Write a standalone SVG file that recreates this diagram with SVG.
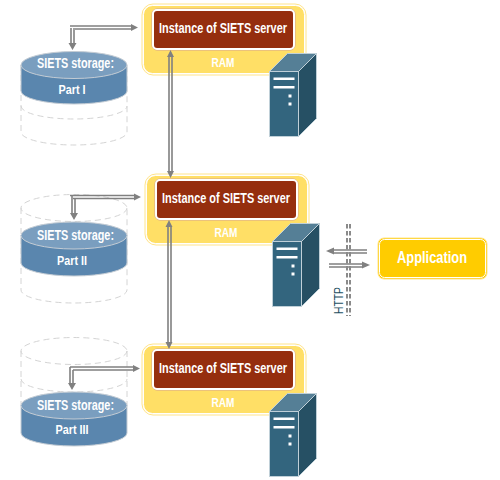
<svg xmlns="http://www.w3.org/2000/svg" width="500" height="480" viewBox="0 0 500 480">
<style>
text{font-family:"Liberation Sans",Arial,sans-serif;font-weight:bold;fill:#fff;text-anchor:middle}
.ram{fill:#ffdf66;stroke:#fff;stroke-width:1}
.ramo{fill:none;stroke:#ffe48a;stroke-width:1}
.inst{fill:#952e0e;stroke:#fff;stroke-width:2}
.insto{fill:none;stroke:#d8a58f;stroke-width:1}
.dash{fill:none;stroke:#d4d4d4;stroke-width:1;stroke-dasharray:6 4}
.cb{fill:#5a86ae;stroke:#c4ccd4;stroke-width:1}
.ct{fill:#7a9ebf;stroke:#c4ccd4;stroke-width:1}
.w{stroke:#808080;stroke-width:1.600;fill:none}
.h{fill:#808080}
.fr{fill:#33657e;stroke:#c0d0d8;stroke-width:1}
.sd{fill:#265064;stroke:#c0d0d8;stroke-width:1}
.tp{fill:#557f96;stroke:#c0d0d8;stroke-width:1}
.bar{fill:#fff}
</style>
<defs>
<g id="srv">
<path class="tp" d="M0 0 L18-18 H47 L29 0Z"/>
<path class="sd" d="M29 0 L47-18 V47 L29 65Z"/>
<rect class="fr" x="0" y="0" width="29" height="65"/>
<rect class="bar" x="4" y="6" width="21" height="2.500"/>
<rect class="bar" x="4" y="14.500" width="21" height="2.500"/>
<rect class="bar" x="19" y="23" width="3" height="3"/>
<rect class="bar" x="19" y="31" width="3" height="3"/>
</g>
<g id="ramg">
<rect class="ramo" x="0" y="0" width="164" height="71" rx="11"/>
<rect class="ram" x="1.500" y="1.500" width="161" height="68" rx="9"/>
<rect class="insto" x="10" y="5" width="143" height="41" rx="5"/>
<rect class="inst" x="11" y="6" width="141" height="39" rx="4"/>
</g>
</defs>

<g id="storage-1">
<path class="dash" d="M21 65 V132 A53 13 0 0 0 127 132 V65"/>
<path class="dash" d="M21 106 A53 13 0 0 0 127 106"/>
<path class="cb" d="M21 65 V91 A53 13 0 0 0 127 91 V65Z"/>
<ellipse class="ct" cx="74" cy="65" rx="53" ry="13.500"/>
<text x="75.500" y="68" font-size="14" textLength="77" lengthAdjust="spacingAndGlyphs">SIETS storage:</text>
<text x="72" y="94" font-size="13" textLength="27" lengthAdjust="spacingAndGlyphs">Part I</text>
</g>
<g id="storage-2">
<path class="dash" d="M21 208 V290 A53 13 0 0 0 127 290 V208"/>
<ellipse class="dash" cx="74" cy="208" rx="53" ry="13.500"/>
<path class="cb" d="M21 235 V263 A53 13 0 0 0 127 263 V235Z"/>
<ellipse class="ct" cx="74" cy="235.500" rx="53" ry="13.500"/>
<text x="75.500" y="240" font-size="14" textLength="77" lengthAdjust="spacingAndGlyphs">SIETS storage:</text>
<text x="72" y="265" font-size="13" textLength="30" lengthAdjust="spacingAndGlyphs">Part II</text>
</g>
<g id="storage-3">
<path class="dash" d="M21 351 V405 M127 351 V405"/>
<ellipse class="dash" cx="74" cy="351" rx="53" ry="13.500"/>
<path class="dash" d="M21 379 A53 13 0 0 0 127 379"/>
<path class="cb" d="M21 405 V433 A53 13 0 0 0 127 433 V405Z"/>
<ellipse class="ct" cx="74" cy="405.500" rx="53" ry="13.500"/>
<text x="75.500" y="410" font-size="14" textLength="77" lengthAdjust="spacingAndGlyphs">SIETS storage:</text>
<text x="72" y="434" font-size="13" textLength="33" lengthAdjust="spacingAndGlyphs">Part III</text>
</g>

<g id="server-1">
<use href="#ramg" x="142" y="4"/>
<text x="223" y="33" font-size="14" textLength="128" lengthAdjust="spacingAndGlyphs">Instance of SIETS server</text>
<text x="223" y="67" font-size="12" textLength="23" lengthAdjust="spacingAndGlyphs">RAM</text>
<use href="#srv" x="269.500" y="71.500"/>
</g>
<g id="server-2">
<use href="#ramg" x="145" y="174"/>
<text x="226" y="203" font-size="14" textLength="128" lengthAdjust="spacingAndGlyphs">Instance of SIETS server</text>
<text x="226" y="237" font-size="12" textLength="23" lengthAdjust="spacingAndGlyphs">RAM</text>
<use href="#srv" x="272.500" y="241.500"/>
</g>
<g id="server-3">
<use href="#ramg" x="142" y="344"/>
<text x="223" y="373" font-size="14" textLength="128" lengthAdjust="spacingAndGlyphs">Instance of SIETS server</text>
<text x="223" y="407" font-size="12" textLength="23" lengthAdjust="spacingAndGlyphs">RAM</text>
<use href="#srv" x="269.500" y="411.500"/>
</g>

<g id="application">
<rect x="378" y="238" width="109" height="41" rx="6" fill="#ffcc00" stroke="#ffe48a" stroke-width="1"/>
<rect x="379.500" y="239.500" width="106" height="38" rx="5" fill="#ffcc00" stroke="#fff" stroke-width="1"/>
<text x="432" y="263" font-size="16" textLength="70" lengthAdjust="spacingAndGlyphs">Application</text>
</g>

<g id="connectors">
<path class="w" d="M70 26 H132 M73 29 H132 M71 28 V45 M74 30 V45"/>
<path class="h" d="M138 27.500 L131 24 V31Z M72.500 50 L68.500 43 H76.500Z"/>
<path class="w" d="M70 195.500 H134 M73 198.500 H134 M72 196 V214 M75 199 V214"/>
<path class="h" d="M141 197 L134 193.500 V200.500Z M74 220 L70 213 H78Z"/>
<path class="w" d="M70 367 H134 M73 370 H134 M70 367 V384 M73 370 V384"/>
<path class="h" d="M140 368.500 L133 365 V372Z M72 390 L68 383 H76Z"/>
<path class="w" d="M169 56 V173 M172 56 V173"/>
<path class="h" d="M170.500 50 L167 57 H174Z M170.500 178 L167 171 H174Z"/>
<path class="w" d="M168 226 V343 M171 226 V343"/>
<path class="h" d="M169 220 L165.500 227 H172.500Z M169 349 L165.500 342 H172.500Z"/>
<path class="w" d="M333 250 H367 M333 253 H367"/>
<path class="h" d="M326 251 L334 247.500 V254.500Z"/>
<path class="w" d="M329 264 H363 M329 267 H363"/>
<path class="h" d="M370 265 L362 261.500 V268.500Z"/>
<path d="M347 224 V316 M350 224 V316" stroke="#8a8a8a" stroke-width="2" fill="none" stroke-dasharray="4.500 2.500"/>
<text x="0" y="0" transform="translate(343 314) rotate(-90)" font-size="13" textLength="27" lengthAdjust="spacingAndGlyphs" style="font-weight:normal;fill:#1d4e5f;text-anchor:start">HTTP</text>
</g>
</svg>
